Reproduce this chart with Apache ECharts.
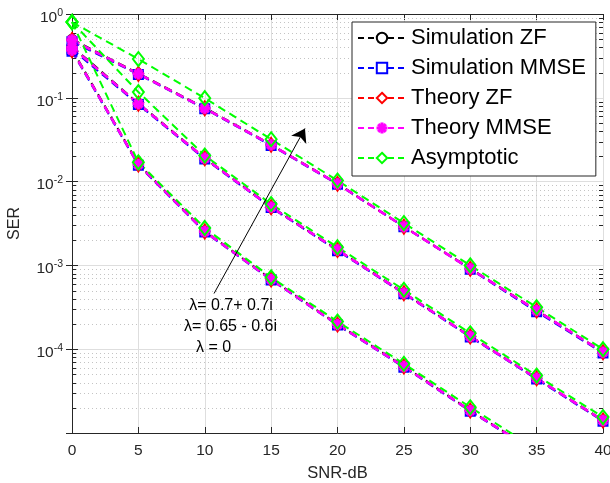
<!DOCTYPE html>
<html>
<head>
<meta charset="utf-8">
<script src="https://cdn.jsdelivr.net/npm/echarts@6/dist/echarts.min.js"></script>
<style>
  html, body { margin: 0; padding: 0; background: #fff; }
  #chart { width: 610px; height: 483px; }
</style>
</head>
<body>
<div id="chart"></div>
<script>
// SNR grid (dB)
const snrDb = [0, 5, 10, 15, 20, 25, 30, 35, 40];

// λ = 0.7 + 0.7i
const simZfA     = [0.50, 0.195, 0.076, 0.0276, 0.0095, 0.0029, 0.00092, 0.00029, 9.3e-5];
const simMmseA   = [0.47, 0.190, 0.074, 0.0270, 0.0093, 0.0029, 0.00090, 0.00028, 9.0e-5];
const theoZfA    = [0.49, 0.193, 0.075, 0.0275, 0.0094, 0.0029, 0.00091, 0.00029, 9.2e-5];
const theoMmseA  = [0.49, 0.193, 0.075, 0.0275, 0.0094, 0.0029, 0.00091, 0.00029, 9.2e-5];
const asymA      = [0.80, 0.290, 0.099, 0.0320, 0.0103, 0.0032, 0.00100, 0.000317, 1.0e-4];

// λ = 0.65 - 0.6i
const simZfB     = [0.41, 0.086, 0.0192, 0.0050, 0.00154, 0.000470, 0.000143, 4.5e-5, 1.42e-5];
const simMmseB   = [0.38, 0.083, 0.0186, 0.0049, 0.00150, 0.000460, 0.000140, 4.4e-5, 1.38e-5];
const theoZfB    = [0.40, 0.085, 0.0190, 0.00495, 0.00153, 0.000466, 0.000142, 4.5e-5, 1.41e-5];
const theoMmseB  = [0.40, 0.085, 0.0190, 0.00495, 0.00153, 0.000466, 0.000142, 4.5e-5, 1.41e-5];
const asymB      = [0.80, 0.117, 0.0205, 0.0054, 0.00165, 0.000512, 0.000155, 4.85e-5, 1.55e-5];

// λ = 0
const simZfC     = [0.38, 0.0162, 0.00256, 0.00069, 0.000199, 6.3e-5, 1.86e-5, 5.9e-6, 1.8e-6];
const simMmseC   = [0.36, 0.0157, 0.00250, 0.00067, 0.000194, 6.1e-5, 1.82e-5, 5.7e-6, 1.8e-6];
const theoZfC    = [0.37, 0.0160, 0.00254, 0.00068, 0.000197, 6.2e-5, 1.85e-5, 5.8e-6, 1.8e-6];
const theoMmseC  = [0.37, 0.0160, 0.00254, 0.00068, 0.000197, 6.2e-5, 1.85e-5, 5.8e-6, 1.8e-6];
const asymC      = [0.80, 0.0170, 0.00280, 0.00072, 0.000214, 6.7e-5, 2.03e-5, 6.4e-6, 2.0e-6];

// y-axis decade labels (exponent -> superscript text)
const decadeLabels = { '0': '0', '-1': '-1', '-2': '-2', '-3': '-3', '-4': '-4' };

// curve annotations (text, [snr, ser])
const notes = [
  { text: 'λ= 0.7+ 0.7i',   at: [11.98, 3.33e-4] },
  { text: 'λ= 0.65 - 0.6i', at: [11.94, 1.87e-4] },
  { text: 'λ = 0',          at: [10.66, 1.05e-4] }
];
const arrowFrom = [10.70, 4.62e-4];
const arrowTo   = [17.55, 0.043];

const FONT = '"Liberation Sans", Arial, Helvetica, sans-serif';
const AX = '#262626';
const DASH = [8, 5];
const ASTERISK = 'path://M-1.3,-5L1.3,-5L1.3,5L-1.3,5Z M-5,-1.3L5,-1.3L5,1.3L-5,1.3Z M2.62,4.46L-4.46,-2.62L-2.62,-4.46L4.46,2.62Z M-4.46,2.62L2.62,-4.46L4.46,-2.62L-2.62,4.46Z';

const kinds = [
  { name: 'Simulation ZF',   color: '#000000', symbol: 'circle',  size: 9,        hollow: true,  width: 2,   sets: [simZfA, simZfB, simZfC] },
  { name: 'Simulation MMSE', color: '#0000ff', symbol: 'rect',    size: 9,        hollow: true,  width: 2,   sets: [simMmseA, simMmseB, simMmseC] },
  { name: 'Theory ZF',       color: '#ff0000', symbol: 'diamond', size: [9, 14],  hollow: true,  width: 2,   sets: [theoZfA, theoZfB, theoZfC] },
  { name: 'Theory MMSE',     color: '#ff00ff', symbol: ASTERISK,  size: 11,       hollow: false, width: 2.5, sets: [theoMmseA, theoMmseB, theoMmseC] },
  { name: 'Asymptotic',      color: '#00ff00', symbol: 'diamond', size: [11, 14], hollow: true,  width: 2,   sets: [asymA, asymB, asymC] }
];

function pairs(vals) { return snrDb.map((x, i) => [x, vals[i]]); }

// minor (2..9 × decade) positions on the log axis
const minorVals = [];
for (let d = -5; d <= -1; d++) for (let m = 2; m <= 9; m++) minorVals.push(m * Math.pow(10, d));

const series = [];

// minor dotted grid plus minor ticks on the left and right axes
series.push({
  type: 'custom', silent: true, z: 1,
  xAxisIndex: 0, yAxisIndex: 0,
  data: minorVals.map(v => [0, v]),
  renderItem: (params, api) => {
    const v = api.value(1);
    const l = api.coord([0, v]);
    const r = api.coord([40, v]);
    const y = Math.round(l[1]) + 0.5;
    return {
      type: 'group',
      children: [
        { type: 'line', shape: { x1: l[0], y1: y, x2: r[0], y2: y }, style: { stroke: '#c4c4c4', lineWidth: 1, lineDash: [1, 3] } },
        { type: 'line', shape: { x1: l[0], y1: y, x2: l[0] + 4, y2: y }, style: { stroke: AX, lineWidth: 1 } },
        { type: 'line', shape: { x1: r[0] - 4, y1: y, x2: r[0], y2: y }, style: { stroke: AX, lineWidth: 1 } }
      ]
    };
  }
});

kinds.forEach(k => {
  k.sets.forEach(vals => {
    series.push({
      type: 'line',
      name: k.name,
      data: pairs(vals),
      symbol: k.symbol,
      symbolSize: k.size,
      showAllSymbol: true,
      lineStyle: { color: k.color, width: k.width, type: DASH },
      itemStyle: {
        color: k.hollow ? 'rgba(0,0,0,0)' : k.color,
        borderColor: k.color,
        borderWidth: k.hollow ? 2 : 0.5
      },
      emphasis: { disabled: true },
      clip: true
    });
  });
});

// arrow across the three curves
series[1].markLine = {
  silent: true, z: 6, symbol: ['none', 'arrow'], symbolSize: 13, label: { show: false },
  lineStyle: { color: '#000', width: 1, type: 'solid' },
  emphasis: { disabled: true },
  data: [[{ coord: arrowFrom }, { coord: arrowTo }]]
};

const legendItems = kinds.map(k => ({
  name: k.name,
  itemStyle: { color: k.hollow ? '#fff' : k.color, borderColor: k.color, borderWidth: k.hollow ? 2 : 0.5 },
  lineStyle: { color: k.color, width: 2, type: [6, 4] }
}));

const chart = echarts.init(document.getElementById('chart'), null, { renderer: 'canvas' });
chart.setOption({
  animation: false,
  backgroundColor: '#fff',
  grid: { left: 72, right: 7, top: 14, bottom: 50, containLabel: false, outerBoundsMode: 'none' },
  legend: {
    orient: 'vertical', left: 352, top: 22,
    backgroundColor: '#fff', borderColor: AX, borderWidth: 1,
    padding: [3, 10, 5, 5],
    itemWidth: 48, itemHeight: 13, itemGap: 4,
    textStyle: { fontFamily: FONT, fontSize: 22, color: '#000', lineHeight: 26 },
    data: legendItems,
    selectedMode: false
  },
  xAxis: [
    {
      type: 'value', min: 0, max: 40, interval: 5,
      name: 'SNR-dB', nameLocation: 'middle', nameGap: 32,
      nameTextStyle: { fontFamily: FONT, fontSize: 16.5, color: AX },
      axisLine: { lineStyle: { color: AX } },
      axisTick: { inside: true, length: 6, lineStyle: { color: AX } },
      axisLabel: { fontFamily: FONT, fontSize: 15.5, color: AX, margin: 10 },
      splitLine: { show: true, lineStyle: { color: '#dedede', width: 1 } }
    },
    {
      type: 'value', min: 0, max: 40, interval: 5, position: 'top',
      axisLine: { lineStyle: { color: AX } },
      axisTick: { inside: true, length: 6, lineStyle: { color: AX } },
      axisLabel: { show: false }, splitLine: { show: false }
    }
  ],
  yAxis: [
    {
      type: 'log', logBase: 10, min: 1e-5, max: 1,
      name: 'SER', nameLocation: 'middle', nameGap: 49,
      nameTextStyle: { fontFamily: FONT, fontSize: 16, color: AX },
      axisLine: { show: true, lineStyle: { color: AX } },
      axisTick: { show: true, inside: true, length: 6, lineStyle: { color: AX } },
      axisLabel: {
        margin: 9,
        padding: [7, 0, 0, 0],
        formatter: v => {
          const e = String(Math.round(Math.log10(v)));
          return decadeLabels[e] === undefined ? '' : '{b|10}{s|' + decadeLabels[e] + '}';
        },
        rich: {
          b: { fontFamily: FONT, fontSize: 15.5, color: AX, lineHeight: 20 },
          s: { fontFamily: FONT, fontSize: 10.5, color: AX, lineHeight: 11, verticalAlign: 'top' }
        }
      },
      splitLine: { show: true, lineStyle: { color: '#dedede', width: 1 } }
    },
    {
      type: 'log', logBase: 10, min: 1e-5, max: 1, position: 'right',
      axisLine: { show: true, lineStyle: { color: AX } },
      axisTick: { show: true, inside: true, length: 6, lineStyle: { color: AX } },
      axisLabel: { show: false }, splitLine: { show: false }
    }
  ],
  series: series
});

// annotation texts placed through the axis scales
chart.setOption({
  graphic: notes.map(n => {
    const p = chart.convertToPixel({ gridIndex: 0 }, n.at);
    return {
      type: 'text', x: p[0], y: p[1], z: 10, silent: true,
      style: { text: n.text, font: '16px ' + FONT, fill: '#000', align: 'center', verticalAlign: 'middle' }
    };
  })
});
</script>
</body>
</html>
